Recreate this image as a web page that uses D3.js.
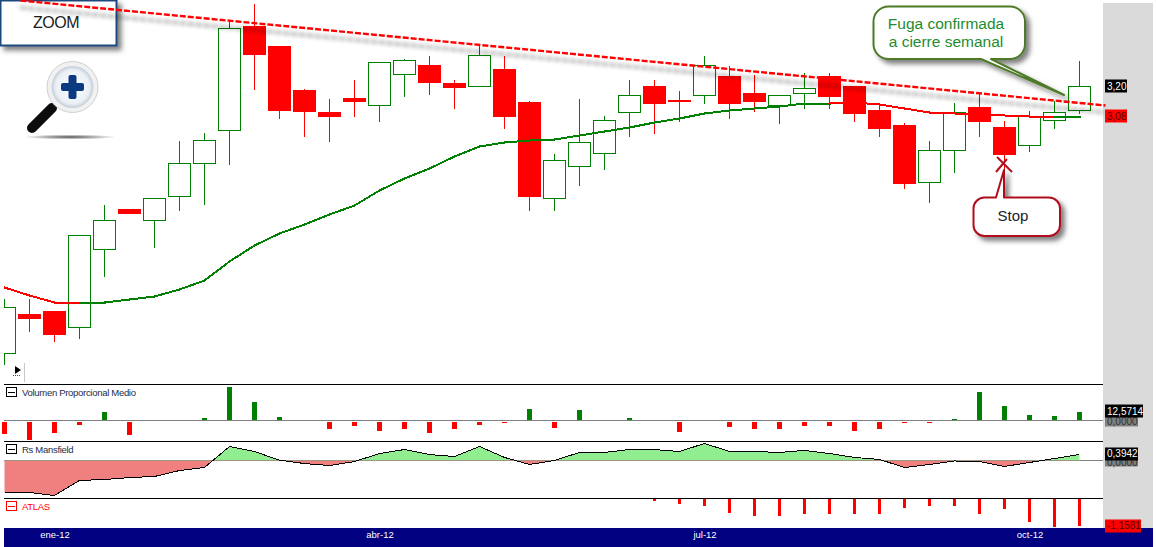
<!DOCTYPE html>
<html>
<head>
<meta charset="utf-8">
<script src="https://cdn.jsdelivr.net/npm/d3@7"></script>
<style>
  body { margin: 0; background: #fff; overflow: hidden; }
  text { font-family: "Liberation Sans", Arial, sans-serif; }
</style>
</head>
<body>
<div id="chart"></div>
<script>
// weekly candles, jan-12 to oct-12
const opens = [2.132,2.288,2.300,2.236,2.548,2.708,2.664,2.760,2.892,3.024,3.440,3.360,3.184,3.096,3.152,3.124,3.248,3.284,3.212,3.200,3.268,3.136,2.752,2.880,2.932,3.096,3.200,3.144,3.164,3.240,3.172,3.124,3.172,3.240,3.200,3.104,3.044,2.816,2.944,3.116,3.036,2.964,3.064,3.104];
const highs = [2.352,2.352,2.300,2.604,2.728,2.708,2.752,2.984,3.016,3.464,3.532,3.360,3.192,3.152,3.228,3.296,3.312,3.324,3.228,3.372,3.324,3.144,2.932,3.152,3.084,3.228,3.228,3.184,3.324,3.284,3.248,3.164,3.256,3.256,3.200,3.132,3.056,2.984,3.136,3.176,3.064,3.104,3.144,3.304];
const lows = [2.088,2.220,2.180,2.192,2.440,2.692,2.556,2.704,2.728,2.888,3.188,3.072,3.000,2.980,3.080,3.060,3.160,3.168,3.112,3.200,3.032,2.704,2.704,2.804,2.868,3.000,3.012,3.060,3.132,3.072,3.100,3.052,3.112,3.112,3.060,3.000,2.792,2.736,2.856,3.000,2.852,2.940,3.032,3.092];
const closes = [2.316,2.272,2.208,2.604,2.664,2.692,2.752,2.892,2.984,3.432,3.328,3.104,3.100,3.080,3.140,3.296,3.304,3.216,3.196,3.324,3.080,2.760,2.904,2.976,3.064,3.164,3.132,3.140,3.284,3.132,3.140,3.164,3.192,3.160,3.092,3.032,2.812,2.944,3.096,3.060,2.928,3.080,3.096,3.200];

// moving average, and the stretches of it drawn in red
const movingAvg = [2.396,2.364,2.336,2.336,2.336,2.348,2.360,2.388,2.424,2.500,2.564,2.612,2.648,2.688,2.724,2.784,2.832,2.872,2.920,2.960,2.976,2.984,2.988,3.004,3.020,3.036,3.056,3.072,3.092,3.104,3.112,3.120,3.132,3.132,3.136,3.128,3.112,3.096,3.092,3.088,3.084,3.080,3.080,3.080];
const maRedStretches = [[0, 3], [33, 42]];

// resistance line: two anchors, week index and price
const trendWeeks = [0.64, 44.04];
const trendPrices = [3.544, 3.124];

// lower panels
const volume = [-16.8,-25.2,-15.4,-4.2,12.6,-18.2,0,0,4.2,47.6,26.6,5.6,0,-9.8,-5.6,-12.6,-9.8,-15.4,-9.8,-4.2,-2.1,16.8,-8.4,15.4,0,4.2,0,-14,0,-7,-9.8,-9.8,-5.6,-5.6,-12.6,-9.8,-1.4,-1.4,2.8,40.6,21,8.4,7,12.5714];
const mansfield = [-2.10,-2.10,-2.30,-1.31,-1.25,-1.12,-1.05,-0.66,-0.46,0.92,0.59,0.02,-0.20,-0.33,-0.07,0.46,0.72,0.39,0.26,0.92,0.20,-0.26,0,0.53,0.53,0.72,0.72,0.59,1.12,0.59,0.59,0.53,0.66,0.46,0.20,0.07,-0.46,-0.26,-0.03,-0.07,-0.39,-0.13,0.13,0.3942];
const atlas = [0,0,0,0,0,0,0,0,0,0,0,0,0,0,0,0,0,0,0,0,0,0,0,0,0,0,-0.083,-0.248,-0.290,-0.580,-0.745,-0.704,-0.662,-0.662,-0.621,-0.662,-0.373,-0.290,-0.331,-0.621,-0.455,-0.952,-1.159,-1.1581];

const monthTicks = [2, 15, 28, 41];
const monthLabels = ['ene-12', 'abr-12', 'jul-12', 'oct-12'];

const width = 1156, height = 547;
const plotLeft = 4, plotRight = 1103;
const RED = '#ff0000', GREEN = '#008000';

const svg = d3.select('#chart').append('svg')
  .attr('width', width)
  .attr('height', height)
  .style('display', 'block');

const defs = svg.append('defs');

function shadow(id, dx, dy, blur, opacity) {
  defs.append('filter')
    .attr('id', id)
    .attr('filterUnits', 'userSpaceOnUse')
    .attr('x', 0).attr('y', -20).attr('width', width).attr('height', height)
    .append('feDropShadow')
      .attr('dx', dx).attr('dy', dy)
      .attr('stdDeviation', blur)
      .attr('flood-color', '#000')
      .attr('flood-opacity', opacity);
}
shadow('boxShadow', 4, 4, 2.5, 0.5);
shadow('lineShadow', 0, 7, 2.2, 0.45);

defs.append('clipPath').attr('id', 'plotClip').append('rect')
  .attr('x', plotLeft).attr('y', 0).attr('width', plotRight - plotLeft).attr('height', 384);

// scales
const x = d3.scaleLinear().domain([0, 43]).range([4.5, 1079.5]);
const y = d3.scaleLinear().domain([3.544, 2.012]).range([0.5, 383.5]);
const yVol = d3.scaleLinear().domain([51.1, -28.7]).range([384, 441]);
const yRs = d3.scaleLinear().domain([1.281, -2.464]).range([441, 498]);
const yAtlas = d3.scaleLinear().domain([0, -1.221]).range([498.5, 528]);

// grey price strip and navy date strip
svg.append('rect').attr('x', plotRight).attr('y', 3).attr('width', 50).attr('height', 525).attr('fill', '#dadada');

// candles
const candles = svg.append('g').attr('clip-path', 'url(#plotClip)').attr('shape-rendering', 'crispEdges');
const weeks = d3.range(opens.length);
const colorOf = i => closes[i] >= opens[i] ? GREEN : RED;

candles.selectAll('line')
  .data(weeks)
  .join('line')
    .attr('x1', i => x(i)).attr('x2', i => x(i))
    .attr('y1', i => y(highs[i])).attr('y2', i => y(lows[i]))
    .attr('stroke', colorOf);

candles.selectAll('rect')
  .data(weeks)
  .join('rect')
    .attr('x', i => x(i) - 11)
    .attr('width', 22)
    .attr('y', i => y(Math.max(opens[i], closes[i])))
    .attr('height', i => Math.abs(y(opens[i]) - y(closes[i])))
    .attr('fill', i => closes[i] >= opens[i] ? '#fff' : RED)
    .attr('stroke', colorOf);

// moving average, split in coloured pieces
const maLine = d3.line().x(i => x(i)).y(i => y(movingAvg[i]));
const inRed = i => maRedStretches.some(s => i >= s[0] && i < s[1]);
const maGroup = svg.append('g').attr('clip-path', 'url(#plotClip)').attr('shape-rendering', 'crispEdges');
weeks.slice(0, -1).forEach(i => {
  maGroup.append('path')
    .attr('d', maLine([i, i + 1]))
    .attr('fill', 'none')
    .attr('stroke', inRed(i) ? RED : GREEN)
    .attr('stroke-width', 2)
    .attr('stroke-linecap', 'square');
});

// zoom button, the resistance line runs over it
svg.append('rect').attr('x', 0.5).attr('y', 0.5).attr('width', 116).attr('height', 45)
  .attr('fill', '#fff').attr('stroke', '#1f497d').attr('stroke-width', 2).attr('filter', 'url(#boxShadow)');
svg.append('text').attr('x', 56).attr('y', 28).attr('text-anchor', 'middle')
  .attr('font-size', 16).attr('letter-spacing', -0.5).attr('fill', '#1a1a1a').text('ZOOM');

// resistance line
svg.append('line')
  .attr('x1', x(trendWeeks[0])).attr('y1', y(trendPrices[0]))
  .attr('x2', x(trendWeeks[1])).attr('y2', y(trendPrices[1]))
  .attr('stroke', RED)
  .attr('stroke-width', 2.4)
  .attr('stroke-dasharray', '6,2')
  .attr('filter', 'url(#lineShadow)');

// volume panel
const panels = svg.append('g').attr('shape-rendering', 'crispEdges');
panels.selectAll('.vol')
  .data(weeks.filter(i => volume[i] !== 0))
  .join('rect')
    .attr('class', 'vol')
    .attr('x', i => x(i) - 2.5)
    .attr('width', 5)
    .attr('y', i => volume[i] > 0 ? yVol(volume[i]) : yVol(0) + 1)
    .attr('height', i => Math.abs(yVol(volume[i]) - yVol(0)))
    .attr('fill', i => volume[i] > 0 ? GREEN : RED);

// mansfield panel: same area twice, clipped above and below zero
defs.append('clipPath').attr('id', 'rsUp').append('rect')
  .attr('x', 0).attr('y', 441).attr('width', width).attr('height', yRs(0) - 441);
defs.append('clipPath').attr('id', 'rsDown').append('rect')
  .attr('x', 0).attr('y', yRs(0)).attr('width', width).attr('height', 498 - yRs(0));

const rsArea = d3.area().x(i => x(i)).y0(yRs(0)).y1(i => yRs(mansfield[i]));
svg.append('path').attr('d', rsArea(weeks)).attr('fill', '#90ee90').attr('clip-path', 'url(#rsUp)');
svg.append('path').attr('d', rsArea(weeks)).attr('fill', '#f08080').attr('clip-path', 'url(#rsDown)');
svg.append('path')
  .attr('d', d3.line().x(i => x(i)).y(i => yRs(mansfield[i]))(weeks))
  .attr('fill', 'none')
  .attr('stroke', '#000')
  .attr('shape-rendering', 'crispEdges');

// atlas panel
panels.selectAll('.atlas')
  .data(weeks.filter(i => atlas[i] !== 0))
  .join('rect')
    .attr('class', 'atlas')
    .attr('x', i => x(i) - 1.5)
    .attr('width', 3)
    .attr('y', yAtlas(0))
    .attr('height', i => yAtlas(atlas[i]) - yAtlas(0))
    .attr('fill', RED);

// zero lines and panel dividers
[yVol(0), yRs(0)].forEach(v => {
  panels.append('line').attr('x1', plotLeft).attr('x2', plotRight).attr('y1', v).attr('y2', v)
    .attr('stroke', '#808080');
});
[384.5, 441.5, 498.5].forEach(v => {
  panels.append('line').attr('x1', plotLeft).attr('x2', plotRight).attr('y1', v).attr('y2', v)
    .attr('stroke', '#000');
});

// panel titles with their collapse boxes
function panelTitle(top, label, color) {
  panels.append('rect').attr('x', 6.5).attr('y', top + 0.5).attr('width', 10).attr('height', 9)
    .attr('fill', '#fff').attr('stroke', color);
  panels.append('line').attr('x1', 8).attr('x2', 15).attr('y1', top + 5).attr('y2', top + 5).attr('stroke', color);
  svg.append('text').attr('x', 22).attr('y', top + 8.5)
    .attr('font-size', 9.5).attr('letter-spacing', -0.3)
    .attr('fill', color === RED ? RED : '#1c2c48').text(label);
}
panelTitle(387, 'Volumen Proporcional Medio', '#000');
panelTitle(444, 'Rs Mansfield', '#000');
panelTitle(501, 'ATLAS', RED);

// date strip with the month axis
svg.append('rect').attr('x', plotLeft).attr('y', 528).attr('width', 1149).attr('height', 19).attr('fill', '#000080');
const xAxis = svg.append('g')
  .attr('transform', 'translate(0,528)')
  .call(d3.axisBottom(x)
    .tickValues(monthTicks)
    .tickSize(0)
    .tickPadding(3)
    .tickFormat((_, i) => monthLabels[i]));
xAxis.select('.domain').remove();
xAxis.selectAll('text')
  .attr('fill', '#fff')
  .style('font-family', '"Liberation Sans", Arial, sans-serif')
  .style('font-size', '9.5px');

// last value tags on the right
function tag(top, h, w, bg, fg, label) {
  svg.append('rect').attr('x', 1105).attr('y', top).attr('width', w).attr('height', h).attr('fill', bg);
  svg.append('text').attr('x', 1107).attr('y', top + h / 2 + 3.5)
    .attr('font-size', 10).attr('fill', fg).text(label);
}
const fmt = (v, n) => v.toFixed(n).replace('.', ',');
const last = opens.length - 1;
tag(y(closes[last]) - 7, 13, 22, '#000', '#fff', fmt(closes[last], 2));
tag(y(movingAvg[last]) - 7, 13, 22, RED, '#5a0000', fmt(movingAvg[last], 2));
tag(yVol(0) - 4, 10, 33, '#808080', '#333', fmt(0, 4));
tag(yVol(volume[last]) - 7, 13, 38, '#000', '#fff', fmt(volume[last], 4));
tag(yRs(0) - 2, 8, 33, '#808080', '#333', fmt(0, 4));
tag(yRs(mansfield[last]) - 7, 13, 33, '#000', '#fff', fmt(mansfield[last], 4));
tag(yAtlas(atlas[last]) - 7, 13, 36, RED, '#5a0000', fmt(atlas[last], 4));

// callouts
function callout(box, tail, stroke) {
  const p = d3.path();
  const {left, top, right, bottom, r} = box;
  p.moveTo(left + r, top);
  if (tail.side === 'top') {
    p.lineTo(tail.a, top); p.lineTo(tail.tipX, tail.tipY); p.lineTo(tail.b, top);
  }
  p.arcTo(right, top, right, top + r, r);
  p.arcTo(right, bottom, right - r, bottom, r);
  if (tail.side === 'bottom') {
    p.lineTo(tail.b, bottom); p.lineTo(tail.tipX, tail.tipY); p.lineTo(tail.a, bottom);
  }
  p.arcTo(left, bottom, left, bottom - r, r);
  p.arcTo(left, top, left + r, top, r);
  p.closePath();
  svg.append('path').attr('d', p.toString())
    .attr('fill', '#fff')
    .attr('stroke', stroke)
    .attr('stroke-width', 2)
    .attr('stroke-linejoin', 'round')
    .attr('filter', 'url(#boxShadow)');
}

callout({left: 873.5, top: 6.5, right: 1025, bottom: 59, r: 15},
  {side: 'bottom', a: 981, b: 991, tipX: 1064, tipY: 95}, '#4e7a27');
svg.selectAll('.fuga')
  .data(['Fuga confirmada', 'a cierre semanal'])
  .join('text')
    .attr('class', 'fuga')
    .attr('x', 946).attr('y', (_, i) => 29 + i * 18)
    .attr('text-anchor', 'middle')
    .attr('font-size', 15.5)
    .attr('fill', '#1e8c2e')
    .text(d => d);

// stop cross
[[996, 172, 1007, 159], [997, 157, 1012, 172]].forEach(c => {
  svg.append('line').attr('x1', c[0]).attr('y1', c[1]).attr('x2', c[2]).attr('y2', c[3])
    .attr('stroke', '#b0101e').attr('stroke-width', 2);
});
callout({left: 973.5, top: 197.5, right: 1060, bottom: 236, r: 11},
  {side: 'top', a: 996, b: 1004, tipX: 1004, tipY: 170}, '#b0101e');
svg.append('text').attr('x', 1013).attr('y', 221).attr('text-anchor', 'middle')
  .attr('font-size', 15).attr('fill', '#1a1a2a').text('Stop');

// magnifier icon
const ringGrad = defs.append('radialGradient').attr('id', 'glass');
ringGrad.append('stop').attr('offset', '0%').attr('stop-color', '#ffffff');
ringGrad.append('stop').attr('offset', '80%').attr('stop-color', '#eaf0f6');
ringGrad.append('stop').attr('offset', '100%').attr('stop-color', '#c4ccd6');
const groundGrad = defs.append('radialGradient').attr('id', 'ground');
groundGrad.append('stop').attr('offset', '0%').attr('stop-color', '#555');
groundGrad.append('stop').attr('offset', '100%').attr('stop-color', '#fff');

const icon = svg.append('g');
icon.append('ellipse').attr('cx', 70).attr('cy', 137).attr('rx', 46).attr('ry', 2.5).attr('fill', 'url(#ground)');
icon.append('line').attr('x1', 52).attr('y1', 108).attr('x2', 32).attr('y2', 128)
  .attr('stroke', '#0c0c0c').attr('stroke-width', 10).attr('stroke-linecap', 'round');
icon.append('circle').attr('cx', 72.5).attr('cy', 87).attr('r', 25.5)
  .attr('fill', '#f1f1f1').attr('stroke', '#d0d0d0').attr('stroke-width', 1);
icon.append('circle').attr('cx', 72.5).attr('cy', 87).attr('r', 21).attr('fill', 'url(#glass)');
icon.append('rect').attr('x', 61).attr('y', 83).attr('width', 23).attr('height', 8).attr('rx', 2).attr('fill', '#0b3a80');
icon.append('rect').attr('x', 68.5).attr('y', 75).attr('width', 8).attr('height', 24).attr('rx', 2).attr('fill', '#0b3a80');

// small play marker at the bottom of the price panel
svg.append('path').attr('d', d3.line()([[15, 366], [21, 370], [15, 374]]) + 'Z').attr('fill', '#000');
svg.append('line').attr('x1', 13).attr('x2', 21).attr('y1', 375.5).attr('y2', 375.5)
  .attr('stroke', '#444').attr('stroke-dasharray', '1,1');
svg.append('line').attr('x1', 24.5).attr('x2', 24.5).attr('y1', 363).attr('y2', 382).attr('stroke', '#c8c8c8');
</script>
</body>
</html>
